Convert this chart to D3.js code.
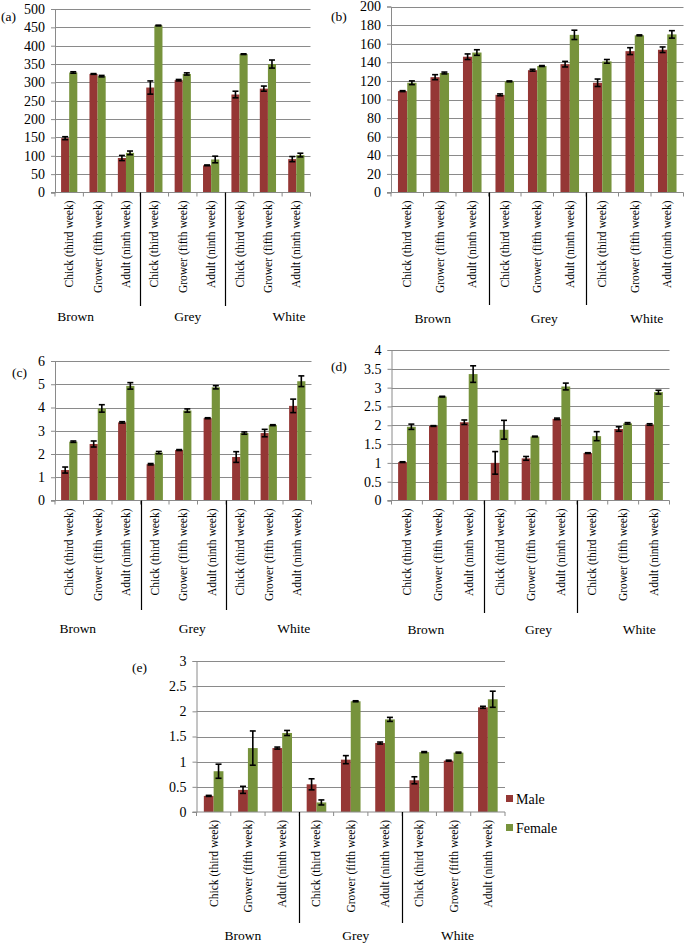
<!DOCTYPE html>
<html><head><meta charset="utf-8">
<script src="https://cdn.jsdelivr.net/npm/d3@7/dist/d3.min.js"></script>
<style>
html,body{margin:0;padding:0;background:#fff;}
svg{display:block;}
svg text{font-family:"Liberation Serif","Times New Roman",Times,serif;}
</style></head>
<body><svg id="chart" width="685" height="943" font-family="Liberation Serif, Times New Roman, serif"></svg>
<script>
// ---------- data ----------
const stages = ["Chick (third week)", "Grower (fifth week)", "Adult (ninth week)"];
const breeds = ["Brown", "Grey", "White"];
const seriesNames = ["Male", "Female"];

const aMale      = [148, 323, 94, 286, 306, 74, 267, 283, 91];
const aMaleErr   = [4, 1, 7, 18, 2, 1, 9, 7, 7];
const aFemale    = [327, 317, 108, 455, 323, 90, 377, 350, 102];
const aFemaleErr = [2, 2, 5, 1, 3, 9, 1, 11, 5];

const bMale      = [109, 124, 146, 105, 131.5, 138, 118, 152, 153.5];
const bMaleErr   = [0.5, 2.7, 3, 1, 1, 3, 4, 3.7, 3];
const bFemale    = [118, 128.5, 150.5, 119.5, 136, 169.5, 141, 169, 170];
const bFemaleErr = [2, 1, 3, 0.5, 0.5, 5, 2, 0.5, 4];

const cMale      = [1.31, 2.43, 3.36, 1.56, 2.17, 3.54, 1.87, 2.9, 4.07];
const cMaleErr   = [0.13, 0.13, 0.03, 0.03, 0.02, 0.02, 0.23, 0.16, 0.29];
const cFemale    = [2.53, 3.96, 4.93, 2.06, 3.87, 4.87, 2.9, 3.24, 5.13];
const cFemaleErr = [0.03, 0.16, 0.14, 0.05, 0.07, 0.07, 0.05, 0.02, 0.23];

const dMale      = [1.02, 1.98, 2.08, 1.0, 1.12, 2.17, 1.26, 1.9, 2.02];
const dMaleErr   = [0.01, 0.01, 0.06, 0.3, 0.05, 0.02, 0.01, 0.06, 0.02];
const dFemale    = [1.96, 2.76, 3.36, 1.88, 1.70, 3.03, 1.71, 2.05, 2.88];
const dFemaleErr = [0.07, 0.01, 0.22, 0.25, 0.01, 0.09, 0.12, 0.02, 0.05];

const eMale      = [0.32, 0.44, 1.27, 0.55, 1.04, 1.37, 0.63, 1.02, 2.08];
const eMaleErr   = [0.01, 0.07, 0.02, 0.11, 0.08, 0.02, 0.07, 0.01, 0.02];
const eFemale    = [0.81, 1.27, 1.57, 0.19, 2.2, 1.84, 1.19, 1.18, 2.24];
const eFemaleErr = [0.14, 0.34, 0.05, 0.05, 0.01, 0.04, 0.01, 0.01, 0.16];

const aTicks = [0, 50, 100, 150, 200, 250, 300, 350, 400, 450, 500];
const bTicks = [0, 20, 40, 60, 80, 100, 120, 140, 160, 180, 200];
const cTicks = [0, 1, 2, 3, 4, 5, 6];
const dTicks = [0, 0.5, 1, 1.5, 2, 2.5, 3, 3.5, 4];
const eTicks = [0, 0.5, 1, 1.5, 2, 2.5, 3];

const panelLabels = ["(a)", "(b)", "(c)", "(d)", "(e)"];

// ---------- styles / layout ----------
const FONT = "Liberation Serif, Times New Roman, serif";
const colors = ["#953735", "#77933C"];
const gridColor = "#8a8a8a";

const layout = [
  {x0: 55, x1: 310.5, y0: 192.5, y1: 9, sepBottom: 306, groupY: 321, groupDx: [-22, 5, 21], lab: [1, 21]},
  {x0: 391, x1: 683.5, y0: 192.5, y1: 6.5, sepBottom: 305, groupDx: [-7, 7, 12], groupY: 323, lab: [331, 21]},
  {x0: 55, x1: 311.5, y0: 500.5, y1: 361, sepBottom: 610, groupDx: [-20, 9, 25], groupY: 633, lab: [12, 377]},
  {x0: 391.5, x1: 669.5, y0: 500.5, y1: 350, sepBottom: 613, groupDx: [-12, 8, 16], groupY: 634, lab: [331, 371]},
  {x0: 196.5, x1: 505, y0: 812, y1: 661, sepBottom: 923, groupDx: [-5, 5, 4], groupY: 940, lab: [132, 672]}
];

const panels = [
  {male: aMale, maleErr: aMaleErr, female: aFemale, femaleErr: aFemaleErr, ticks: aTicks},
  {male: bMale, maleErr: bMaleErr, female: bFemale, femaleErr: bFemaleErr, ticks: bTicks},
  {male: cMale, maleErr: cMaleErr, female: cFemale, femaleErr: cFemaleErr, ticks: cTicks},
  {male: dMale, maleErr: dMaleErr, female: dFemale, femaleErr: dFemaleErr, ticks: dTicks},
  {male: eMale, maleErr: eMaleErr, female: eFemale, femaleErr: eFemaleErr, ticks: eTicks}
];

const svg = d3.select("#chart");

const cats = [];
breeds.forEach((b, bi) => stages.forEach((s, si) => cats.push({breed: b, stage: s, key: bi + "-" + si, bi, si})));

panels.forEach((p, pi) => {
  const L = layout[pi];
  const g = svg.append("g").attr("font-family", FONT);
  const x = d3.scaleBand().domain(cats.map(c => c.key)).range([L.x0, L.x1]).paddingInner(0).paddingOuter(0);
  const y = d3.scaleLinear().domain([p.ticks[0], p.ticks[p.ticks.length - 1]]).range([L.y0, L.y1]);
  const bw = x.bandwidth() / 3.5;

  g.append("g").selectAll("line").data(p.ticks.slice(1)).join("line")
    .attr("x1", L.x0).attr("x2", L.x1)
    .attr("y1", d => Math.round(y(d)) + 0.5).attr("y2", d => Math.round(y(d)) + 0.5)
    .attr("stroke", gridColor).attr("stroke-width", 1);

  const yAxis = d3.axisLeft(y).tickValues(p.ticks).tickSize(4).tickPadding(6).tickFormat(d3.format("~g"));
  const ya = g.append("g").attr("transform", `translate(${L.x0},0)`).call(yAxis)
    .attr("font-family", FONT).attr("font-size", 14);
  ya.select(".domain").attr("stroke", gridColor);
  ya.selectAll(".tick line").attr("stroke", gridColor);
  ya.selectAll(".tick text").attr("fill", "#000").attr("font-family", FONT).attr("font-size", 14);

  const series = [
    {vals: p.male, errs: p.maleErr, off: -bw, color: colors[0]},
    {vals: p.female, errs: p.femaleErr, off: 0, color: colors[1]}
  ];
  series.forEach(s => {
    const cx = i => x(cats[i].key) + x.bandwidth() / 2 + s.off;
    g.append("g").selectAll("rect").data(s.vals).join("rect")
      .attr("x", (d, i) => cx(i))
      .attr("y", d => y(d))
      .attr("width", bw)
      .attr("height", d => y(0) - y(d))
      .attr("fill", s.color);
  });
  series.forEach(s => {
    const eg = g.append("g").attr("stroke", "#000").attr("stroke-width", 1.6).attr("fill", "none");
    s.vals.forEach((v, i) => {
      const cx = x(cats[i].key) + x.bandwidth() / 2 + s.off + bw / 2;
      const e = s.errs[i];
      const yt = y(v + e), yb = y(v - e);
      eg.append("line").attr("x1", cx).attr("x2", cx).attr("y1", yt).attr("y2", yb);
      eg.append("line").attr("x1", cx - 3).attr("x2", cx + 3).attr("y1", yt).attr("y2", yt);
      eg.append("line").attr("x1", cx - 3).attr("x2", cx + 3).attr("y1", yb).attr("y2", yb);
    });
  });

  g.append("line").attr("x1", L.x0 - 4).attr("x2", L.x1).attr("y1", L.y0).attr("y2", L.y0)
    .attr("stroke", gridColor).attr("stroke-width", 1);
  const tickXs = cats.map(c => x(c.key)).concat([L.x1]);
  g.append("g").selectAll("line").data(tickXs).join("line")
    .attr("x1", d => d).attr("x2", d => d).attr("y1", L.y0).attr("y2", L.y0 + 4)
    .attr("stroke", gridColor);
  breeds.slice(1).forEach((b, bi) => {
    const sx = Math.round(x((bi + 1) + "-0")) + 0.5;
    g.append("line").attr("x1", sx).attr("x2", sx).attr("y1", L.y0).attr("y2", L.sepBottom)
      .attr("stroke", "#000").attr("stroke-width", 1.2);
  });
  g.append("g").selectAll("text").data(cats).join("text")
    .attr("transform", c => `translate(${x(c.key) + x.bandwidth() / 2 + 4},${L.y0 + 8}) rotate(-90)`)
    .attr("text-anchor", "end")
    .attr("font-family", FONT)
    .attr("font-size", 11.5)
    .text(c => c.stage);
  g.append("g").selectAll("text").data(breeds).join("text")
    .attr("x", (b, bi) => x(bi + "-1") + x.bandwidth() / 2 + L.groupDx[bi])
    .attr("y", L.groupY)
    .attr("text-anchor", "middle")
    .attr("font-family", FONT)
    .attr("font-size", 13.5)
    .text(b => b);
  g.append("text").attr("x", L.lab[0]).attr("y", L.lab[1]).attr("font-family", FONT)
    .attr("font-size", 13.5).text(panelLabels[pi]);
});

const lg = svg.append("g").attr("transform", "translate(506,795)").attr("font-family", FONT);
seriesNames.forEach((n, i) => {
  lg.append("rect").attr("x", 0).attr("y", i * 29).attr("width", 7).attr("height", 7).attr("fill", colors[i]);
  lg.append("text").attr("x", 10).attr("y", i * 29 + 9).attr("font-family", FONT).attr("font-size", 14).text(n);
});
</script>
</body></html>
